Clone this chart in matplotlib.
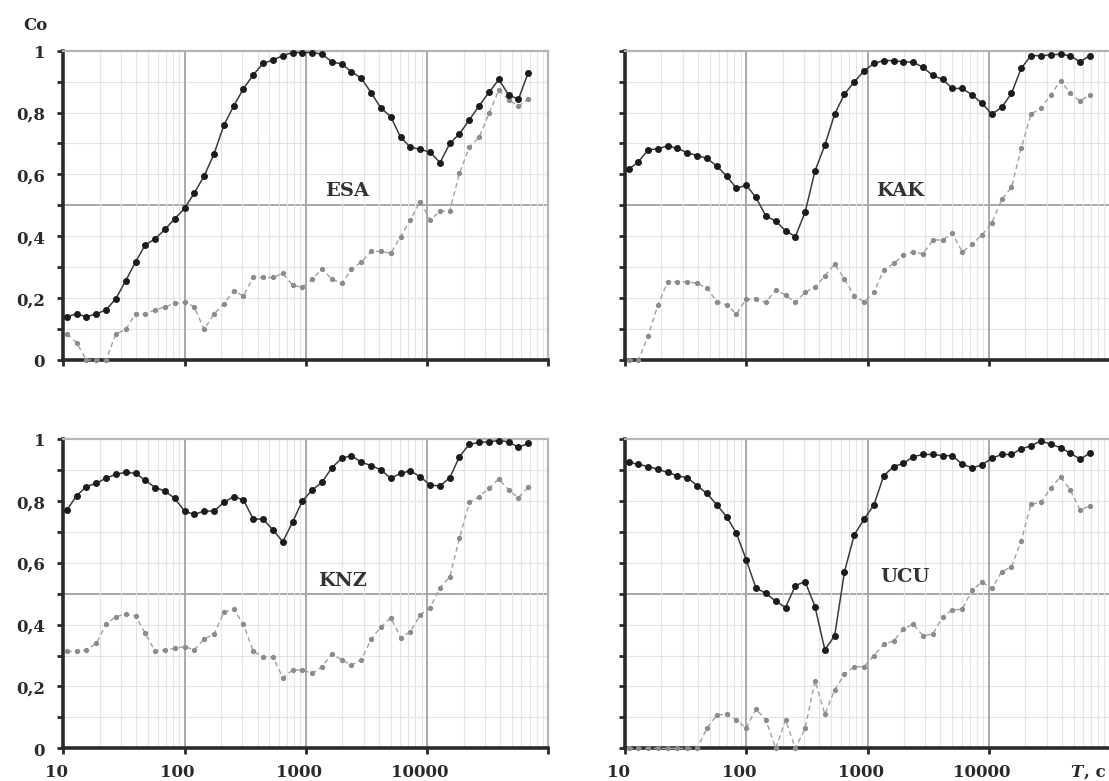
import matplotlib
matplotlib.use("Agg")
import matplotlib.pyplot as plt
from matplotlib.ticker import FixedLocator, NullFormatter

# period grid, c
T = [10.7, 12.9, 15.5, 18.7, 22.5, 27.1, 32.7, 39.4, 47.4, 57.2,
     68.9, 83.0, 100, 120, 145, 175, 211, 254, 306, 369,
     445, 536, 646, 778, 937, 1130, 1360, 1640, 1980, 2380,
     2870, 3460, 4170, 5020, 6050, 7290, 8790, 10600, 12800, 15400,
     18500, 22300, 26900, 32400, 39100, 47100, 56700, 68300]

esa_solid = [0.140, 0.149, 0.140, 0.149, 0.162, 0.198, 0.256, 0.317, 0.372, 0.392,
             0.422, 0.457, 0.490, 0.539, 0.595, 0.666, 0.759, 0.821, 0.877, 0.922,
             0.959, 0.970, 0.984, 0.994, 0.994, 0.994, 0.989, 0.964, 0.957, 0.932,
             0.911, 0.864, 0.814, 0.787, 0.720, 0.688, 0.681, 0.672, 0.638, 0.700,
             0.731, 0.776, 0.822, 0.865, 0.907, 0.857, 0.843, 0.929]
esa_dashed = [0.084, 0.056, 0.0, 0.0, 0.0, 0.084, 0.099, 0.149, 0.149, 0.162,
              0.172, 0.183, 0.188, 0.172, 0.099, 0.149, 0.181, 0.224, 0.207, 0.267,
              0.267, 0.267, 0.280, 0.242, 0.235, 0.261, 0.295, 0.261, 0.248, 0.293,
              0.317, 0.351, 0.351, 0.345, 0.399, 0.453, 0.512, 0.453, 0.481, 0.483,
              0.603, 0.688, 0.720, 0.797, 0.873, 0.841, 0.821, 0.843]

kak_solid = [0.616, 0.641, 0.679, 0.683, 0.692, 0.684, 0.670, 0.661, 0.652, 0.627,
             0.595, 0.555, 0.565, 0.526, 0.466, 0.449, 0.418, 0.399, 0.478, 0.611,
             0.695, 0.795, 0.860, 0.899, 0.935, 0.959, 0.968, 0.968, 0.964, 0.963,
             0.946, 0.920, 0.907, 0.878, 0.878, 0.857, 0.830, 0.795, 0.817, 0.862,
             0.943, 0.984, 0.984, 0.986, 0.989, 0.983, 0.964, 0.984]
kak_dashed = [0.0, 0.0, 0.078, 0.178, 0.253, 0.253, 0.253, 0.248, 0.232, 0.189,
              0.178, 0.149, 0.197, 0.196, 0.186, 0.226, 0.210, 0.186, 0.219, 0.235,
              0.272, 0.310, 0.261, 0.207, 0.188, 0.219, 0.291, 0.312, 0.339, 0.350,
              0.343, 0.388, 0.388, 0.409, 0.349, 0.375, 0.404, 0.444, 0.519, 0.558,
              0.684, 0.795, 0.814, 0.857, 0.903, 0.862, 0.837, 0.857]

knz_solid = [0.770, 0.817, 0.846, 0.857, 0.873, 0.886, 0.892, 0.889, 0.867, 0.843,
             0.832, 0.808, 0.767, 0.756, 0.767, 0.767, 0.795, 0.814, 0.803, 0.741,
             0.741, 0.706, 0.668, 0.731, 0.800, 0.835, 0.860, 0.907, 0.938, 0.946,
             0.925, 0.914, 0.900, 0.873, 0.889, 0.897, 0.878, 0.851, 0.848, 0.875,
             0.943, 0.983, 0.989, 0.991, 0.995, 0.991, 0.973, 0.986]
knz_dashed = [0.313, 0.313, 0.318, 0.339, 0.401, 0.426, 0.433, 0.429, 0.372, 0.313,
              0.318, 0.323, 0.329, 0.318, 0.353, 0.369, 0.440, 0.450, 0.401, 0.313,
              0.296, 0.296, 0.228, 0.253, 0.253, 0.242, 0.264, 0.304, 0.286, 0.269,
              0.286, 0.353, 0.393, 0.422, 0.358, 0.377, 0.431, 0.455, 0.519, 0.555,
              0.679, 0.795, 0.814, 0.841, 0.871, 0.835, 0.810, 0.844]

ucu_solid = [0.925, 0.918, 0.911, 0.902, 0.892, 0.881, 0.875, 0.849, 0.824, 0.787,
             0.749, 0.695, 0.609, 0.519, 0.501, 0.476, 0.455, 0.526, 0.539, 0.458,
             0.318, 0.364, 0.571, 0.690, 0.741, 0.787, 0.881, 0.911, 0.921, 0.943,
             0.950, 0.950, 0.946, 0.946, 0.918, 0.907, 0.916, 0.938, 0.950, 0.950,
             0.968, 0.978, 0.994, 0.983, 0.972, 0.954, 0.935, 0.954]
ucu_dashed = [0.0, 0.0, 0.0, 0.0, 0.0, 0.0, 0.0, 0.0, 0.065, 0.108,
              0.110, 0.092, 0.065, 0.127, 0.092, 0.0, 0.092, 0.0, 0.065, 0.218,
              0.110, 0.189, 0.239, 0.264, 0.264, 0.300, 0.336, 0.347, 0.386, 0.401,
              0.364, 0.369, 0.426, 0.447, 0.450, 0.512, 0.537, 0.517, 0.571, 0.587,
              0.670, 0.789, 0.795, 0.841, 0.878, 0.835, 0.770, 0.784]

x_ticks = [10, 100, 1000, 10000, 100000]
x_labels = ["10", "100", "1000", "10000", ""]
y_ticks = [0.0, 0.1, 0.2, 0.3, 0.4, 0.5, 0.6, 0.7, 0.8, 0.9, 1.0]
y_labels = ["0", "", "0,2", "", "0,4", "", "0,6", "", "0,8", "", "1"]

panels = [
    # name, solid, dashed, label position, left/right column, top/bottom row
    ("ESA", esa_solid, esa_dashed, (2170, 0.545), 0, 0),
    ("KAK", kak_solid, kak_dashed, (1860, 0.547), 1, 0),
    ("KNZ", knz_solid, knz_dashed, (2010, 0.541), 0, 1),
    ("UCU", ucu_solid, ucu_dashed, (2040, 0.555), 1, 1),
]

FONT = "DejaVu Serif"
W, H = 1109, 781
fig = plt.figure(figsize=(W / 100, H / 100), dpi=100)

col_left = [63.3, 625.0]
col_width = 485.0
row_top = [50.7, 439.0]
row_height = 309.3

for name, solid, dashed, (lx, ly), col, row in panels:
    x0 = col_left[col] / W
    y0 = 1 - (row_top[row] + row_height) / H
    ax = fig.add_axes([x0, y0, col_width / W, row_height / H])
    ax.set_xscale("log")
    ax.set_xlim(10, 100000)
    ax.set_ylim(0, 1)

    # grid: light minor lines, darker decades and 0.5
    ax.xaxis.set_major_locator(FixedLocator(x_ticks))
    ax.xaxis.set_minor_locator(FixedLocator(
        [m * d for d in (10, 100, 1000, 10000) for m in range(2, 10)]))
    ax.xaxis.set_minor_formatter(NullFormatter())
    ax.grid(True, which="minor", axis="x", color="#e4e4e4", lw=0.8)
    ax.grid(True, which="major", axis="x", color="#a8a8a8", lw=1.4)
    for yv in y_ticks[1:-1]:
        if yv == 0.5:
            ax.axhline(yv, color="#a8a8a8", lw=1.4, zorder=0.5)
        else:
            ax.axhline(yv, color="#e4e4e4", lw=0.8, zorder=0.5)

    ax.plot(T, dashed, color="#a0a0a0", lw=1.0, ls=(0, (3.5, 2.5)),
            marker="o", ms=2.8, mfc="#8c8c8c", mec="#8c8c8c",
            zorder=3, clip_on=False)
    ax.plot(T, solid, color="#3a3a3a", lw=1.1, marker="o", ms=4.0,
            mfc="#1c1c1c", mec="#1c1c1c", zorder=4, clip_on=False)

    ax.text(lx, ly, name, ha="center", va="center", fontsize=14,
            fontweight="bold", family=FONT, color="#333333")

    for side in ("top", "right"):
        ax.spines[side].set_color("#b4b4b4")
        ax.spines[side].set_linewidth(1.6)
    for side in ("left", "bottom"):
        ax.spines[side].set_color("#2a2a2a")
        ax.spines[side].set_linewidth(2.6)

    ax.set_yticks(y_ticks)
    ax.tick_params(axis="both", which="major", direction="out", length=4,
                   width=2, color="#2a2a2a")
    ax.tick_params(axis="x", which="minor", length=0)
    ax.set_xticklabels([])
    ax.set_yticklabels([])

    if col == 0:
        for yv, s in zip(y_ticks, y_labels):
            if s:
                ax.annotate(s, xy=(0, yv), xycoords=("axes fraction", "data"),
                            xytext=(-13, -2), textcoords="offset points",
                            ha="right", va="center", fontsize=12,
                            fontweight="bold", family=FONT, color="#2a2a2a")
    if row == 1:
        for xv, s in zip(x_ticks, x_labels):
            if s:
                ax.annotate(s, xy=(xv, 0), xycoords=("data", "axes fraction"),
                            xytext=(-5, -11), textcoords="offset points",
                            ha="center", va="top", fontsize=12,
                            fontweight="bold", family=FONT, color="#2a2a2a")
        if col == 1:
            ax.annotate("T", xy=(1070 / W, 0), xycoords=("figure fraction", "axes fraction"),
                        xytext=(0, -11), textcoords="offset points",
                        ha="left", va="top", fontsize=12, fontweight="bold",
                        fontstyle="italic", family=FONT, color="#2a2a2a")
            ax.annotate(", c", xy=(1084 / W, 0), xycoords=("figure fraction", "axes fraction"),
                        xytext=(0, -11), textcoords="offset points",
                        ha="left", va="top", fontsize=12, fontweight="bold",
                        family=FONT, color="#2a2a2a")

fig.text(23 / W, 1 - 25 / H, "Co", ha="left", va="center", fontsize=12,
         fontweight="bold", family=FONT, color="#2a2a2a")

fig.savefig("out.png", dpi=100, facecolor="white")
